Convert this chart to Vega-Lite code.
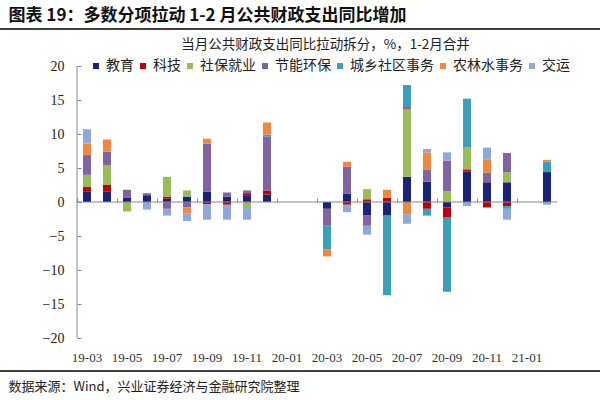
{
  "$schema": "https://vega.github.io/schema/vega-lite/v6.json",
  "width": 600,
  "height": 344,
  "autosize": {"type": "none"},
  "padding": {"left": 0, "right": 0, "top": 28, "bottom": 28},
  "background": "white",
  "config": {"view": {"stroke": null}},
  "resolve": {"axis": {"x": "independent", "y": "independent"}, "scale": {"y": "independent"}},
  "layer": [
    {
      "data": {"values": [
        {"m": "19-03", "s": "教育", "v": 1.5, "k": 1},
        {"m": "19-03", "s": "科技", "v": 0.7, "k": 2},
        {"m": "19-03", "s": "社保就业", "v": 1.8, "k": 3},
        {"m": "19-03", "s": "节能环保", "v": 2.9, "k": 4},
        {"m": "19-03", "s": "农林水事务", "v": 1.7, "k": 6},
        {"m": "19-03", "s": "交运", "v": 2.1, "k": 7},
        {"m": "19-04", "s": "教育", "v": 1.5, "k": 1},
        {"m": "19-04", "s": "科技", "v": 1.0, "k": 2},
        {"m": "19-04", "s": "社保就业", "v": 2.9, "k": 3},
        {"m": "19-04", "s": "节能环保", "v": 2.0, "k": 4},
        {"m": "19-04", "s": "农林水事务", "v": 1.8, "k": 6},
        {"m": "19-05", "s": "教育", "v": 0.6, "k": 1},
        {"m": "19-05", "s": "社保就业", "v": -1.4, "k": 3},
        {"m": "19-05", "s": "节能环保", "v": 1.2, "k": 4},
        {"m": "19-06", "s": "教育", "v": 1.0, "k": 1},
        {"m": "19-06", "s": "节能环保", "v": 0.3, "k": 4},
        {"m": "19-06", "s": "交运", "v": -1.1, "k": 7},
        {"m": "19-07", "s": "教育", "v": 0.5, "k": 1},
        {"m": "19-07", "s": "科技", "v": 0.3, "k": 2},
        {"m": "19-07", "s": "社保就业", "v": 2.9, "k": 3},
        {"m": "19-07", "s": "节能环保", "v": -1.0, "k": 4},
        {"m": "19-07", "s": "交运", "v": -1.0, "k": 7},
        {"m": "19-08", "s": "教育", "v": 0.8, "k": 1},
        {"m": "19-08", "s": "社保就业", "v": 0.9, "k": 3},
        {"m": "19-08", "s": "节能环保", "v": -0.8, "k": 4},
        {"m": "19-08", "s": "农林水事务", "v": -0.9, "k": 6},
        {"m": "19-08", "s": "交运", "v": -1.1, "k": 7},
        {"m": "19-09", "s": "教育", "v": 1.5, "k": 1},
        {"m": "19-09", "s": "科技", "v": -0.3, "k": 2},
        {"m": "19-09", "s": "节能环保", "v": 7.1, "k": 4},
        {"m": "19-09", "s": "农林水事务", "v": 0.7, "k": 6},
        {"m": "19-09", "s": "交运", "v": -2.3, "k": 7},
        {"m": "19-10", "s": "教育", "v": 0.8, "k": 1},
        {"m": "19-10", "s": "科技", "v": -0.4, "k": 2},
        {"m": "19-10", "s": "节能环保", "v": 0.6, "k": 4},
        {"m": "19-10", "s": "交运", "v": -2.2, "k": 7},
        {"m": "19-11", "s": "教育", "v": 0.9, "k": 1},
        {"m": "19-11", "s": "科技", "v": 0.4, "k": 2},
        {"m": "19-11", "s": "社保就业", "v": -0.9, "k": 3},
        {"m": "19-11", "s": "节能环保", "v": 0.4, "k": 4},
        {"m": "19-11", "s": "交运", "v": -1.7, "k": 7},
        {"m": "19-12", "s": "教育", "v": 1.1, "k": 1},
        {"m": "19-12", "s": "科技", "v": 0.6, "k": 2},
        {"m": "19-12", "s": "节能环保", "v": 7.9, "k": 4},
        {"m": "19-12", "s": "城乡社区事务", "v": 0.3, "k": 5},
        {"m": "19-12", "s": "农林水事务", "v": 1.8, "k": 6},
        {"m": "20-03", "s": "教育", "v": -1.0, "k": 1},
        {"m": "20-03", "s": "节能环保", "v": -2.5, "k": 4},
        {"m": "20-03", "s": "城乡社区事务", "v": -3.5, "k": 5},
        {"m": "20-03", "s": "农林水事务", "v": -1.0, "k": 6},
        {"m": "20-04", "s": "教育", "v": 1.2, "k": 1},
        {"m": "20-04", "s": "科技", "v": -0.4, "k": 2},
        {"m": "20-04", "s": "节能环保", "v": 4.0, "k": 4},
        {"m": "20-04", "s": "农林水事务", "v": 0.7, "k": 6},
        {"m": "20-04", "s": "交运", "v": -1.1, "k": 7},
        {"m": "20-05", "s": "教育", "v": -2.0, "k": 1},
        {"m": "20-05", "s": "科技", "v": 0.4, "k": 2},
        {"m": "20-05", "s": "社保就业", "v": 1.5, "k": 3},
        {"m": "20-05", "s": "节能环保", "v": -1.5, "k": 4},
        {"m": "20-05", "s": "交运", "v": -1.3, "k": 7},
        {"m": "20-06", "s": "教育", "v": -2.0, "k": 1},
        {"m": "20-06", "s": "科技", "v": 0.6, "k": 2},
        {"m": "20-06", "s": "城乡社区事务", "v": -11.7, "k": 5},
        {"m": "20-06", "s": "农林水事务", "v": 1.2, "k": 6},
        {"m": "20-07", "s": "教育", "v": 3.7, "k": 1},
        {"m": "20-07", "s": "社保就业", "v": 9.9, "k": 3},
        {"m": "20-07", "s": "节能环保", "v": 0.5, "k": 4},
        {"m": "20-07", "s": "城乡社区事务", "v": 3.1, "k": 5},
        {"m": "20-07", "s": "农林水事务", "v": -1.8, "k": 6},
        {"m": "20-07", "s": "交运", "v": -1.4, "k": 7},
        {"m": "20-08", "s": "教育", "v": 3.0, "k": 1},
        {"m": "20-08", "s": "科技", "v": -1.0, "k": 2},
        {"m": "20-08", "s": "节能环保", "v": 1.8, "k": 4},
        {"m": "20-08", "s": "城乡社区事务", "v": -1.0, "k": 5},
        {"m": "20-08", "s": "农林水事务", "v": 2.5, "k": 6},
        {"m": "20-08", "s": "交运", "v": 0.5, "k": 7},
        {"m": "20-09", "s": "教育", "v": -0.8, "k": 1},
        {"m": "20-09", "s": "科技", "v": -1.5, "k": 2},
        {"m": "20-09", "s": "社保就业", "v": 1.6, "k": 3},
        {"m": "20-09", "s": "节能环保", "v": 4.5, "k": 4},
        {"m": "20-09", "s": "城乡社区事务", "v": -10.9, "k": 5},
        {"m": "20-09", "s": "交运", "v": 1.2, "k": 7},
        {"m": "20-10", "s": "教育", "v": 4.5, "k": 1},
        {"m": "20-10", "s": "科技", "v": 0.3, "k": 2},
        {"m": "20-10", "s": "社保就业", "v": 3.2, "k": 3},
        {"m": "20-10", "s": "城乡社区事务", "v": 7.2, "k": 5},
        {"m": "20-10", "s": "交运", "v": -0.6, "k": 7},
        {"m": "20-11", "s": "教育", "v": 2.9, "k": 1},
        {"m": "20-11", "s": "科技", "v": -0.8, "k": 2},
        {"m": "20-11", "s": "节能环保", "v": 1.4, "k": 4},
        {"m": "20-11", "s": "农林水事务", "v": 1.9, "k": 6},
        {"m": "20-11", "s": "交运", "v": 1.8, "k": 7},
        {"m": "20-12", "s": "教育", "v": 2.9, "k": 1},
        {"m": "20-12", "s": "科技", "v": -0.6, "k": 2},
        {"m": "20-12", "s": "社保就业", "v": 1.5, "k": 3},
        {"m": "20-12", "s": "节能环保", "v": 2.8, "k": 4},
        {"m": "20-12", "s": "城乡社区事务", "v": -0.4, "k": 5},
        {"m": "20-12", "s": "交运", "v": -1.6, "k": 7},
        {"m": "21-02", "s": "教育", "v": 4.4, "k": 1},
        {"m": "21-02", "s": "城乡社区事务", "v": 1.5, "k": 5},
        {"m": "21-02", "s": "农林水事务", "v": 0.3, "k": 6},
        {"m": "21-02", "s": "交运", "v": -0.4, "k": 7}
      ]},
      "mark": {"type": "bar", "width": {"band": 0.4}},
      "encoding": {
        "x": {
          "field": "m", "type": "ordinal",
          "scale": {
            "domain": ["pre1","pre2","pre3","19-03","19-04","19-05","19-06","19-07","19-08","19-09","19-10","19-11","19-12","20-01","20-02","20-03","20-04","20-05","20-06","20-07","20-08","20-09","20-10","20-11","20-12","21-01","21-02","post1","post2"],
            "paddingInner": 0, "paddingOuter": 0.5, "align": 0.85
          },
          "axis": {
            "orient": "bottom",
            "values": ["19-03","19-05","19-07","19-09","19-11","20-01","20-03","20-05","20-07","20-09","20-11","21-01"],
            "domain": false, "ticks": false, "grid": false,
            "labelAngle": 0, "labelFont": "Liberation Serif", "labelFontSize": 13, "labelColor": "#333333",
            "labelPadding": -15, "labelBaseline": "middle",
            "title": "数据来源：Wind，兴业证券经济与金融研究院整理",
            "titleFont": "Noto Sans CJK SC", "titleFontSize": 13, "titleFontWeight": "normal", "titleColor": "#222222",
            "titleAnchor": "start", "titleAlign": "left", "titleX": 8, "titleY": 14, "titleBaseline": "middle"
          }
        },
        "y": {
          "field": "v", "type": "quantitative", "stack": "zero",
          "scale": {"domain": [-25, 25.59], "nice": false, "zero": false},
          "axis": {
            "orient": "left", "offset": -77,
            "values": [-20, -15, -10, -5, 0, 5, 10, 15, 20],
            "labelOverlap": false,
            "domain": false, "ticks": true, "tickColor": "#888888", "tickSize": -4, "tickWidth": 1,
            "labelPadding": 17, "labelFont": "Liberation Serif", "labelFontSize": 14, "labelColor": "#222222",
            "grid": false,
            "title": "当月公共财政支出同比拉动拆分，%，1-2月合并",
            "titleAngle": 0, "titleAlign": "center", "titleBaseline": "middle",
            "titleX": 248, "titleY": 16,
            "titleFont": "Noto Sans CJK SC", "titleFontSize": 13.5, "titleFontWeight": "normal", "titleColor": "#222222"
          }
        },
        "color": {
          "field": "s", "type": "nominal",
          "sort": ["教育","科技","社保就业","节能环保","城乡社区事务","农林水事务","交运"],
          "scale": {
            "domain": ["教育","科技","社保就业","节能环保","城乡社区事务","农林水事务","交运"],
            "range": ["#1A2378","#C00000","#9BBB59","#8064A2","#3A9FBA","#F0873C","#8FA8DC"]
          },
          "legend": {
            "orient": "none", "legendX": 89, "legendY": 31,
            "direction": "horizontal", "columns": 7, "columnPadding": 2,
            "symbolType": "square", "symbolSize": 36, "symbolStrokeWidth": 0,
            "labelFont": "Noto Sans CJK SC", "labelFontSize": 14, "labelColor": "#222222", "labelOffset": 3,
            "title": null, "padding": 0
          }
        },
        "order": {"field": "k", "type": "quantitative"}
      }
    },
    {
      "data": {"values": [{}]},
      "mark": {"type": "rule", "color": "#888888", "strokeWidth": 1},
      "encoding": {
        "x": {
          "datum": "19-03", "type": "ordinal", "bandPosition": 0,
          "axis": {
            "orient": "top", "offset": -174,
            "values": ["19-03","19-05","19-07","19-09","19-11","20-01","20-03","20-05","20-07","20-09","20-11","21-01"],
            "bandPosition": 0, "domain": false, "labels": false, "ticks": true,
            "tickSize": 4, "tickColor": "#888888", "grid": false, "title": null
          }
        },
        "x2": {"datum": "21-02", "bandPosition": 1},
        "y": {"datum": 0, "type": "quantitative", "scale": {"domain": [-25, 25.59], "nice": false, "zero": false}, "axis": null}
      }
    },
    {
      "data": {"values": [{}]},
      "mark": {"type": "rule", "color": "#888888", "strokeWidth": 1},
      "encoding": {
        "x": {"datum": "19-03", "type": "ordinal", "bandPosition": 0, "axis": null},
        "y": {"datum": -20, "type": "quantitative", "scale": {"domain": [-25, 25.59], "nice": false, "zero": false}, "axis": null},
        "y2": {"datum": 20}
      }
    },
    {
      "data": {"values": [{}]},
      "mark": {"type": "rule", "color": "#404040", "strokeWidth": 2},
      "encoding": {
        "y": {"datum": 0.994, "type": "quantitative", "scale": {"domain": [-1, 1], "nice": false, "zero": false}, "axis": null}
      }
    },
    {
      "data": {"values": [{}]},
      "mark": {"type": "rule", "color": "#404040", "strokeWidth": 2},
      "encoding": {
        "y": {"datum": -0.994, "type": "quantitative", "scale": {"domain": [-1, 1], "nice": false, "zero": false}, "axis": null}
      }
    },
    {
      "data": {"values": [{}]},
      "mark": {"type": "rule", "opacity": 0},
      "encoding": {
        "x": {
          "datum": "19-03", "type": "ordinal",
          "axis": {
            "orient": "top",
            "domain": false, "ticks": false, "labels": false, "grid": false,
            "title": "图表 19：多数分项拉动 1-2 月公共财政支出同比增加",
            "titleFont": "Noto Sans CJK SC", "titleFontSize": 17, "titleFontWeight": "bold", "titleColor": "#111111",
            "titleAnchor": "start", "titleAlign": "left", "titleX": 8, "titleY": -13, "titleBaseline": "middle"
          }
        }
      }
    }
  ]
}
